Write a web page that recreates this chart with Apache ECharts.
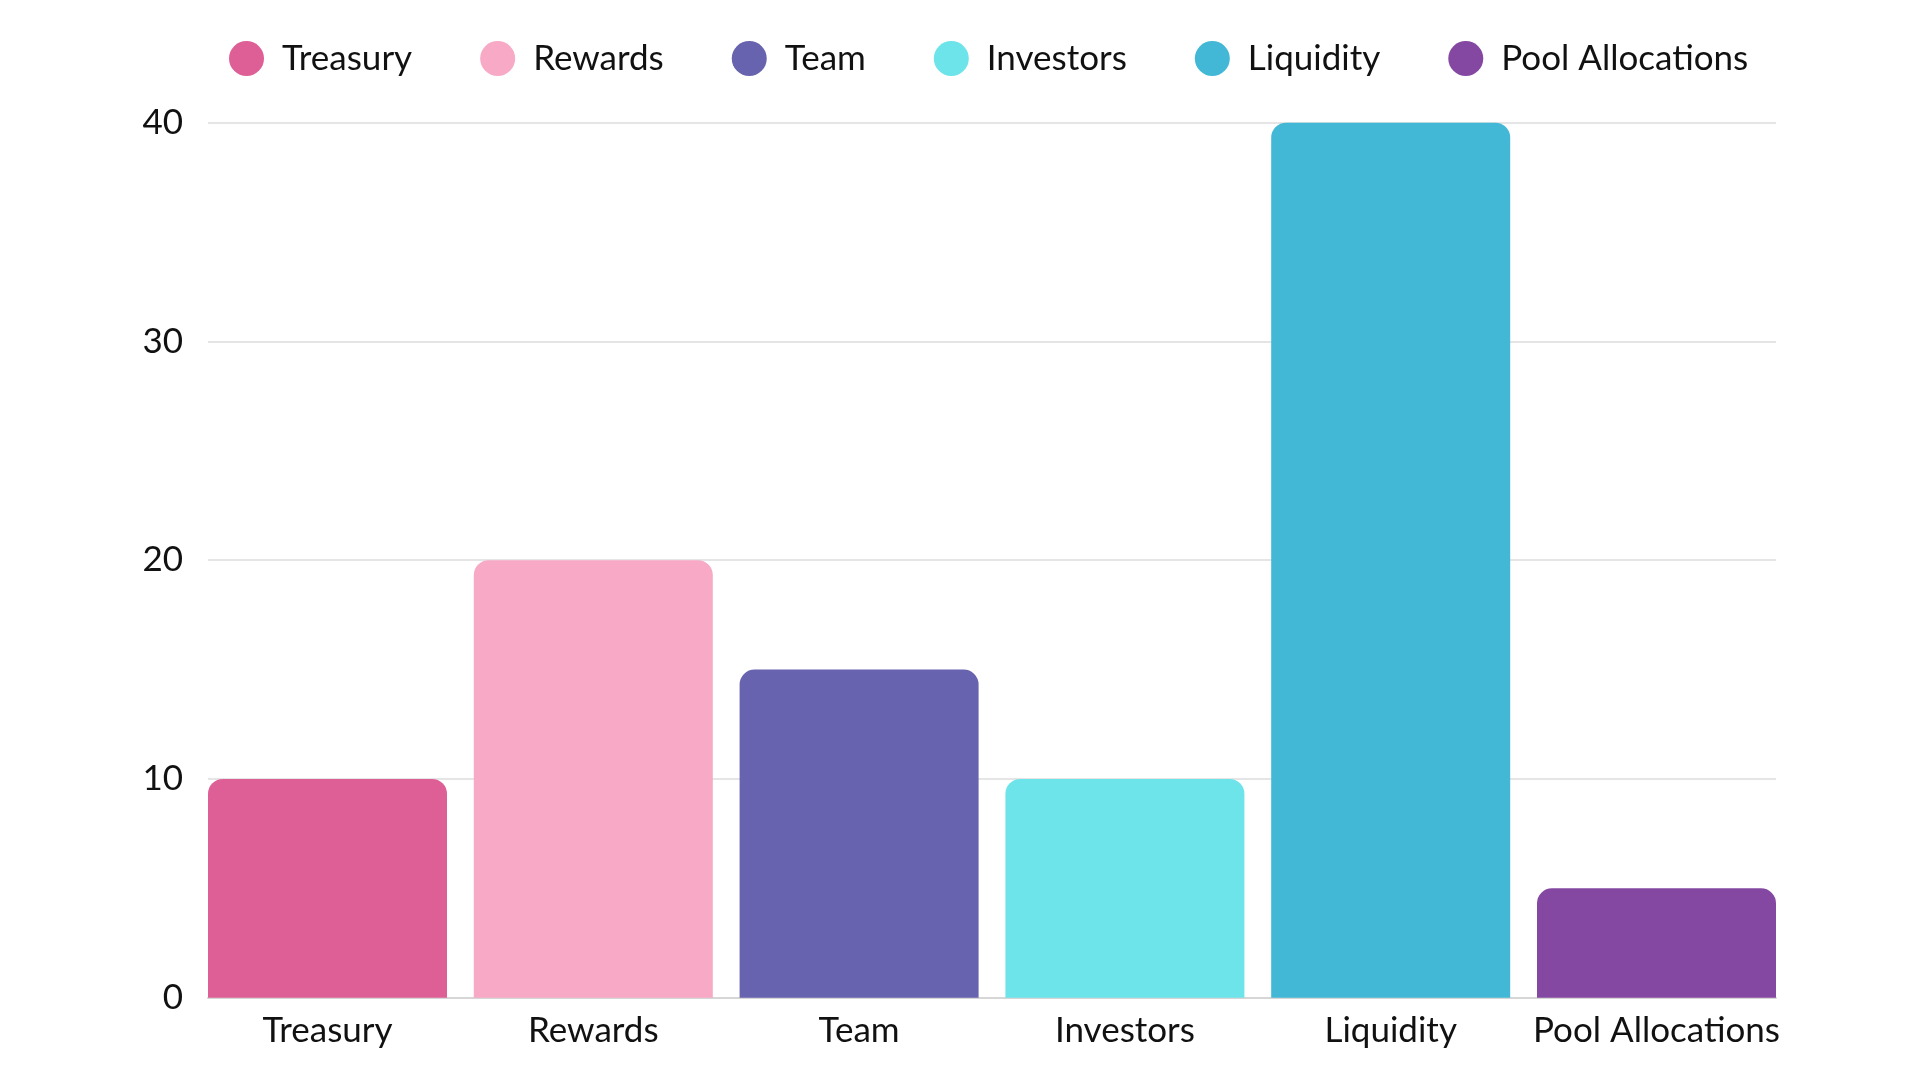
<!DOCTYPE html>
<html>
<head>
<meta charset="utf-8">
<title>Token allocation</title>
<script src="https://cdn.jsdelivr.net/npm/echarts@6/dist/echarts.min.js"></script>
<style>
  html, body { margin: 0; padding: 0; background: #fff; }
  #main { width: 1920px; height: 1080px; }
</style>
</head>
<body>
<div id="main"></div>
<script>
// data
var categories = ['Treasury', 'Rewards', 'Team', 'Investors', 'Liquidity', 'Pool Allocations'];
var values = [10, 20, 15, 10, 40, 5];
var colors = ['#DE5F96', '#F7A9C6', '#6763AF', '#6CE4E9', '#42B8D6', '#8548A2'];
var yTicks = [0, 10, 20, 30, 40];

var FONT = 'Lato';

// one series per category so the legend gets one entry each
var series = [];
for (var i = 0; i < categories.length; i++) {
    var d = [];
    for (var j = 0; j < categories.length; j++) {
        d.push(j === i ? values[i] : '-');
    }
    series.push({
        name: categories[i],
        type: 'bar',
        stack: 'all',
        xAxisIndex: 1,
        yAxisIndex: 1,
        barWidth: 239,
        data: d,
        itemStyle: { color: colors[i], borderRadius: [15, 15, 0, 0] },
        z: 3
    });
}

var myChart = echarts.init(document.getElementById('main'));

var option = {
    animation: false,
    backgroundColor: '#fff',
    color: colors,
    textStyle: { fontFamily: FONT },
    legend: {
        left: 224,
        top: 36,
        itemWidth: 35,
        itemHeight: 35,
        itemGap: 68,
        icon: 'circle',
        data: categories,
        textStyle: { fontSize: 35, color: '#111', fontFamily: FONT, padding: [0, 0, 0, 13] }
    },
    grid: [
        // gridlines + y labels
        { left: 208, right: 144, top: 122.7, bottom: 82.3 },
        // bars, a bit wider so outer bars touch the plot edges
        { left: 194.6, right: 130.6, top: 122.7, bottom: 82.3 }
    ],
    xAxis: [
        {
            gridIndex: 0,
            type: 'value',
            min: 0,
            max: 1,
            axisLabel: { show: false },
            axisTick: { show: false },
            splitLine: { show: false },
            axisLine: { show: true, onZero: false, lineStyle: { color: '#d6d6d6', width: 2 } }
        },
        {
            gridIndex: 1,
            type: 'category',
            data: categories,
            axisLine: { show: false },
            axisTick: { show: false },
            axisLabel: { fontSize: 35, color: '#111', fontFamily: FONT, margin: 16, interval: 0 }
        }
    ],
    yAxis: [
        {
            gridIndex: 0,
            type: 'value',
            min: yTicks[0],
            max: yTicks[yTicks.length - 1],
            interval: 10,
            axisLine: { show: false },
            axisTick: { show: false },
            axisLabel: { fontSize: 35, color: '#111', fontFamily: FONT, margin: 25 },
            splitLine: { lineStyle: { color: '#dcdcdc', width: 1.5 } }
        },
        {
            gridIndex: 1,
            type: 'value',
            min: yTicks[0],
            max: yTicks[yTicks.length - 1],
            interval: 10,
            show: false,
            splitLine: { show: false }
        }
    ],
    series: series
};

myChart.setOption(option);
</script>
</body>
</html>
